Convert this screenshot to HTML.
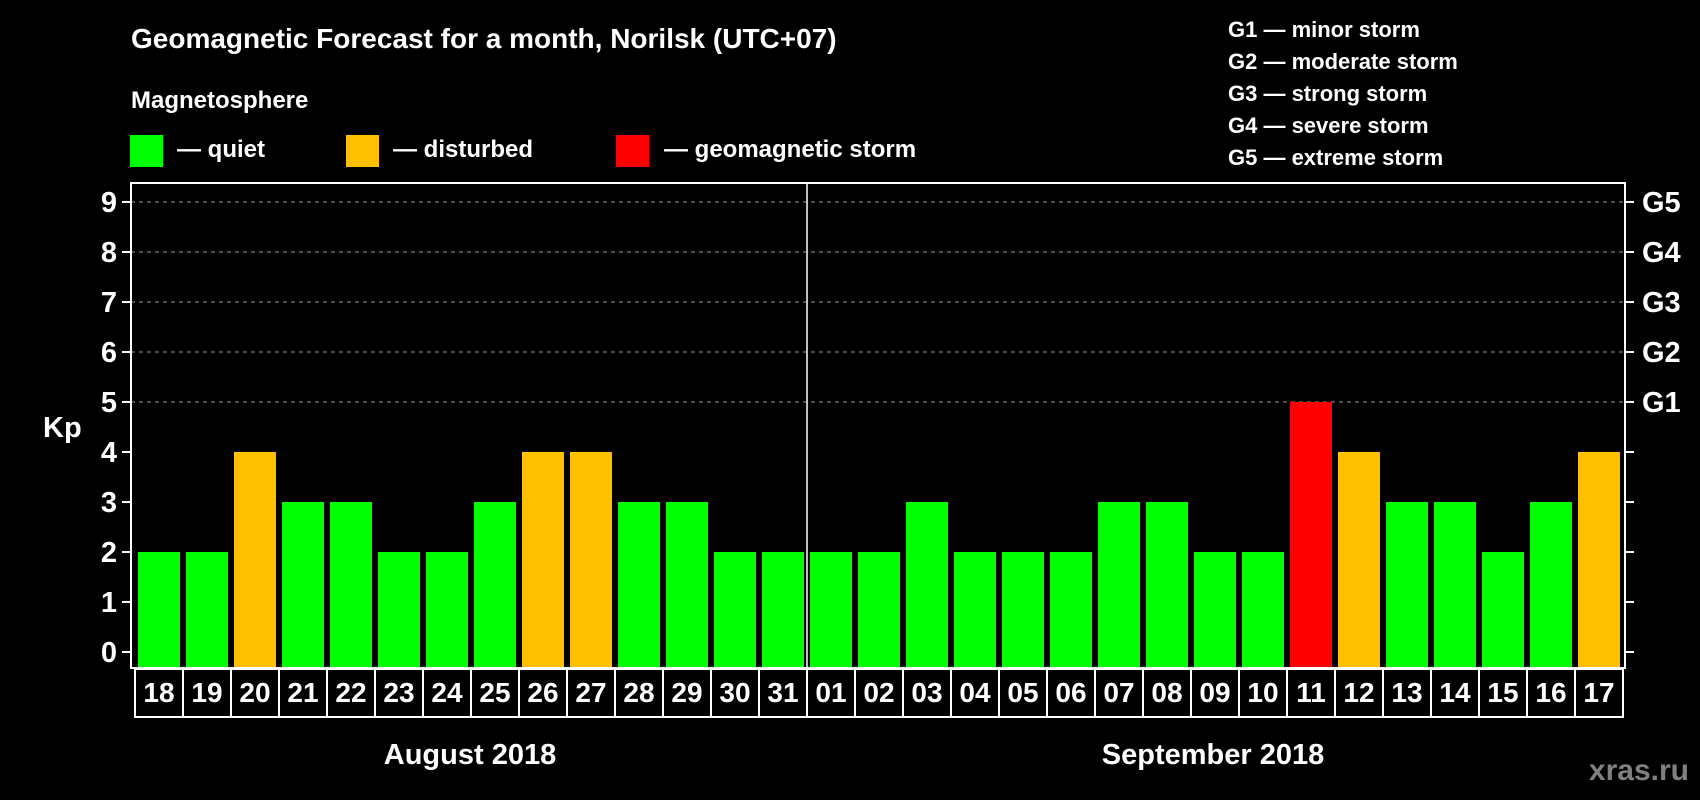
<!DOCTYPE html>
<html><head><meta charset="utf-8"><style>
html,body{margin:0;padding:0;background:#000;}
svg{display:block;font-family:"Liberation Sans",Arial,sans-serif;font-weight:bold;}
</style></head><body>
<svg id="chart" width="1700" height="800" viewBox="0 0 1700 800" xmlns="http://www.w3.org/2000/svg">
<rect width="1700" height="800" fill="#000"/>
<text x="131" y="48" font-size="28" fill="#fff">Geomagnetic Forecast for a month, Norilsk (UTC+07)</text>
<text x="131" y="108" font-size="24" fill="#fff">Magnetosphere</text>
<g>
<rect x="130" y="135" width="33" height="32" fill="#00ff00"/>
<text x="177" y="157" font-size="24" fill="#fff">— quiet</text></g>
<g>
<rect x="346" y="135" width="33" height="32" fill="#ffc000"/>
<text x="393" y="157" font-size="24" fill="#fff">— disturbed</text></g>
<g>
<rect x="616" y="135" width="33" height="32" fill="#ff0000"/>
<text x="664" y="157" font-size="24" fill="#fff">— geomagnetic storm</text></g>
<g font-size="22" fill="#fff">
<text x="1228" y="37">G1 — minor storm</text>
<text x="1228" y="69">G2 — moderate storm</text>
<text x="1228" y="101">G3 — strong storm</text>
<text x="1228" y="133">G4 — severe storm</text>
<text x="1228" y="165">G5 — extreme storm</text>
</g>
<text x="43" y="437" font-size="29" fill="#fff">Kp</text>
<g id="grid"></g>
<g id="bars"></g>
<g id="axes"></g>
<text x="470" y="764" font-size="29" fill="#fff" text-anchor="middle">August 2018</text>
<text x="1213" y="764" font-size="29" fill="#fff" text-anchor="middle">September 2018</text>
<text x="1689" y="780" font-size="30" fill="#808080" text-anchor="end">xras.ru</text>
</svg>
<script>
const days = ["18","19","20","21","22","23","24","25","26","27","28","29","30","31","01","02","03","04","05","06","07","08","09","10","11","12","13","14","15","16","17"];
const kpValues = [2,2,4,3,3,2,2,3,4,4,3,3,2,2,2,2,3,2,2,2,3,3,2,2,5,4,3,3,2,3,4];
const yTicks = [0,1,2,3,4,5,6,7,8,9];
const gLabels = ["G1","G2","G3","G4","G5"];
const gLevels = [5,6,7,8,9];
const monthSplitIndex = 14;

const NS = "http://www.w3.org/2000/svg";
const frameL = 131, frameR = 1625, frameT = 183, frameB = 668;
const slotX0 = 135, slotW = 48;
function yScale(v){ return 652 - 50 * v; }
function xScale(i){ return slotX0 + slotW * i; }
function mk(tag, attrs, parent){ const e = document.createElementNS(NS, tag); for (const k in attrs) e.setAttribute(k, attrs[k]); parent.appendChild(e); return e; }
function colorFor(v){ return v >= 5 ? "#ff0000" : (v >= 4 ? "#ffc000" : "#00ff00"); }

const grid = document.getElementById("grid");
gLevels.forEach(function(v){
  const l = mk("line", {x1: frameL, x2: frameR, y1: yScale(v), y2: yScale(v), stroke: "#999", "stroke-width": 1, "stroke-dasharray": "4,4"}, grid);
  
  
});

const bars = document.getElementById("bars");
kpValues.forEach(function(v, i){
  const y = yScale(v);
  const r = mk("rect", {x: xScale(i) + 3, y: y, width: 42, height: frameB - y, fill: colorFor(v)}, bars);
  
  
});

const axes = document.getElementById("axes");
const frame = mk("rect", {x: frameL, y: frameT, width: frameR - frameL, height: frameB - frameT, fill: "none", stroke: "#fff", "stroke-width": 2}, axes);


const div = mk("line", {x1: xScale(monthSplitIndex), x2: xScale(monthSplitIndex), y1: frameT, y2: frameB, stroke: "#fff", "stroke-width": 1.5}, axes);


yTicks.forEach(function(t){
  const y = yScale(t);
  mk("line", {x1: frameL - 9, x2: frameL, y1: y, y2: y, stroke: "#fff", "stroke-width": 2}, axes);
  mk("line", {x1: frameR, x2: frameR + 9, y1: y, y2: y, stroke: "#fff", "stroke-width": 2}, axes);
  const tx = mk("text", {x: 117, y: y + 10, "font-size": 29, fill: "#fff", "text-anchor": "end"}, axes);
  tx.textContent = t;
  
  
});
gLabels.forEach(function(g, i){
  const gt = mk("text", {x: 1642, y: yScale(gLevels[i]) + 10, "font-size": 29, fill: "#fff"}, axes);
  gt.textContent = g;
  
  
});
days.forEach(function(d, i){
  const bx = mk("rect", {x: xScale(i), y: 669, width: slotW, height: 48, fill: "none", stroke: "#fff", "stroke-width": 2}, axes);
  
  
  const dt = mk("text", {x: xScale(i) + slotW / 2, y: 702, "font-size": 28, fill: "#fff", "text-anchor": "middle"}, axes);
  dt.textContent = d;
  
  
});
</script>
</body></html>
